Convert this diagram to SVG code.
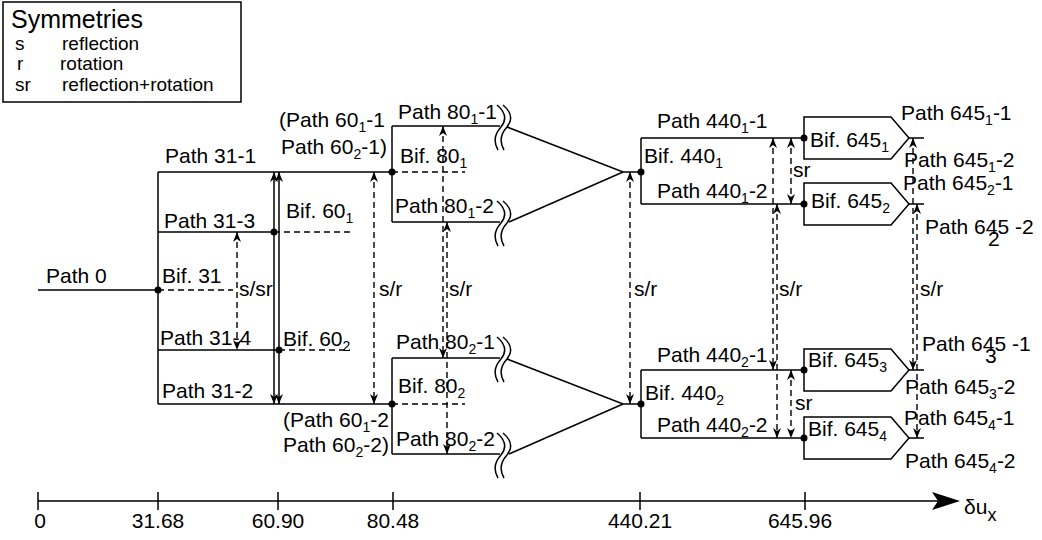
<svg xmlns="http://www.w3.org/2000/svg" width="1042" height="540" viewBox="0 0 1042 540">
<style>
text{font-family:"Liberation Sans",Arial,sans-serif;font-size:21px;fill:#000}
.lg{font-size:19px}
.tt{font-size:25px}
.ax{font-size:21px;text-anchor:middle}
.ln{fill:none;stroke:#000;stroke-width:1.5}
.ds{fill:none;stroke:#000;stroke-width:1.4;stroke-dasharray:6 4}
.ar{marker-start:url(#ah);marker-end:url(#ah)}
.dot{fill:#000}
</style>
<defs>
<marker id="ah" viewBox="0 0 10 8" refX="10" refY="4" markerWidth="10" markerHeight="8" markerUnits="userSpaceOnUse" orient="auto-start-reverse">
<path d="M0,0 L10,4 L0,8 L3,4 z" fill="#000"/>
</marker>
<path id="wv" d="M-3,-21 Q10,-10 1,1 Q-9,12 -2,24 M3,-21 Q16,-10 7,1 Q-3,12 4,24" fill="none" stroke="#000" stroke-width="1.5"/>
</defs>
<rect width="1042" height="540" fill="#fff"/>

<g id="legend">
<rect x="3" y="2" width="238" height="100" fill="none" stroke="#000" stroke-width="1.5"/>
<text class="tt" x="11" y="28">Symmetries</text>
<text class="lg" x="15" y="50">s</text><text class="lg" x="62" y="50">reflection</text>
<text class="lg" x="17" y="70">r</text><text class="lg" x="60" y="70">rotation</text>
<text class="lg" x="15" y="91">sr</text><text class="lg" x="62" y="91">reflection+rotation</text>
</g>

<g id="connectors">
<path class="ln" d="M38,290 H158 M158,172 V404 M158,172 H392 M158,232 H274 M158,350 H279 M158,404 H392"/>
<path class="ln ar" d="M274,172 V404"/>
<path class="ln ar" d="M279,172 V404"/>
<path class="ln" d="M392,126 H500 M392,222 H500 M392,358 H500 M392,454 H500"/>
<use href="#wv" x="500" y="126"/><use href="#wv" x="500" y="222"/>
<use href="#wv" x="500" y="358"/><use href="#wv" x="500" y="454"/>
<path class="ln" d="M507,127 L623,172 H641 M509,222 L623,172 M507,359 L623,404 H641 M509,454 L623,404"/>
<path class="ln" d="M641,138 H804 M641,204 H804 M641,370 H804 M641,438 H804"/>
<path class="ln" d="M909,138 H924 M909,204 H924 M909,370 H924 M909,438 H924"/>
<path class="ds" d="M158,290 H233 M274,232 H350 M279,350 H350 M392,172 H465 M392,404 H465"/>
<path class="ds ar" d="M237,232 V350"/>
<path class="ds ar" d="M374,172 V404"/>
<path class="ds ar" d="M443,126 V358"/>
<path class="ds ar" d="M447,222 V454"/>
<path class="ds ar" d="M630,172 V404"/>
<path class="ds ar" d="M773,138 V370"/>
<path class="ds ar" d="M777,204 V438"/>
<path class="ds ar" d="M791,138 V204"/>
<path class="ds ar" d="M791,370 V438"/>
<path class="ds ar" d="M913,138 V370"/>
<path class="ds ar" d="M917,204 V438"/>
<text x="46" y="283">Path 0</text>
<text x="165" y="163">Path 31-1</text>
<text x="164" y="228">Path 31-3</text>
<text x="160" y="345">Path 31-4</text>
<text x="162" y="398">Path 31-2</text>
<text x="239" y="296">s/sr</text>
<text x="279" y="127">(Path 60<tspan font-size="14" dy="5">1</tspan><tspan dy="-5">-1</tspan></text>
<text x="281" y="154">Path 60<tspan font-size="14" dy="5">2</tspan><tspan dy="-5">-1)</tspan></text>
<text x="283" y="427">(Path 60<tspan font-size="14" dy="5">1</tspan><tspan dy="-5">-2</tspan></text>
<text x="283" y="452">Path 60<tspan font-size="14" dy="5">2</tspan><tspan dy="-5">-2)</tspan></text>
<text x="379" y="296">s/r</text>
<text x="398" y="119">Path 80<tspan font-size="14" dy="5">1</tspan><tspan dy="-5">-1</tspan></text>
<text x="395" y="213">Path 80<tspan font-size="14" dy="5">1</tspan><tspan dy="-5">-2</tspan></text>
<text x="396" y="349">Path 80<tspan font-size="14" dy="5">2</tspan><tspan dy="-5">-1</tspan></text>
<text x="396" y="446">Path 80<tspan font-size="14" dy="5">2</tspan><tspan dy="-5">-2</tspan></text>
<text x="449" y="296">s/r</text>
<text x="634" y="296">s/r</text>
<text x="657" y="128">Path 440<tspan font-size="14" dy="5">1</tspan><tspan dy="-5">-1</tspan></text>
<text x="657" y="198">Path 440<tspan font-size="14" dy="5">1</tspan><tspan dy="-5">-2</tspan></text>
<text x="657" y="362">Path 440<tspan font-size="14" dy="5">2</tspan><tspan dy="-5">-1</tspan></text>
<text x="657" y="432">Path 440<tspan font-size="14" dy="5">2</tspan><tspan dy="-5">-2</tspan></text>
<text x="779" y="296">s/r</text>
<text x="793" y="177">sr</text>
<text x="795" y="410">sr</text>
<text x="901" y="120">Path 645<tspan font-size="14" dy="5">1</tspan><tspan dy="-5">-1</tspan></text>
<text x="904" y="167">Path 645<tspan font-size="14" dy="5">1</tspan><tspan dy="-5">-2</tspan></text>
<text x="903" y="190">Path 645<tspan font-size="14" dy="5">2</tspan><tspan dy="-5">-1</tspan></text>
<text x="925" y="234">Path 645 -2</text><text x="988" y="246" font-size="14">2</text>
<text x="920" y="296">s/r</text>
<text x="922" y="351">Path 645 -1</text><text x="985" y="363" font-size="14">3</text>
<text x="905" y="394">Path 645<tspan font-size="14" dy="5">3</tspan><tspan dy="-5">-2</tspan></text>
<text x="904" y="425">Path 645<tspan font-size="14" dy="5">4</tspan><tspan dy="-5">-1</tspan></text>
<text x="905" y="468">Path 645<tspan font-size="14" dy="5">4</tspan><tspan dy="-5">-2</tspan></text>
</g>

<g id="bif31">
<circle class="dot" cx="158" cy="290" r="3.5"/>
<text x="162" y="283">Bif. 31</text>
</g>
<g id="bif60_1">
<circle class="dot" cx="274" cy="232" r="3.5"/>
<text x="286" y="218">Bif. 60<tspan font-size="14" dy="5">1</tspan></text>
</g>
<g id="bif60_2">
<circle class="dot" cx="279" cy="350" r="3.5"/>
<text x="283" y="346">Bif. 60<tspan font-size="14" dy="5">2</tspan></text>
</g>
<g id="bif80_1">
<path class="ln" d="M392,126 V222"/>
<circle class="dot" cx="392" cy="172" r="3.5"/>
<text x="400" y="163">Bif. 80<tspan font-size="14" dy="5">1</tspan></text>
</g>
<g id="bif80_2">
<path class="ln" d="M392,358 V454"/>
<circle class="dot" cx="392" cy="404" r="3.5"/>
<text x="398" y="393">Bif. 80<tspan font-size="14" dy="5">2</tspan></text>
</g>
<g id="bif440_1">
<path class="ln" d="M641,138 V204"/>
<circle class="dot" cx="641" cy="172" r="3.5"/>
<text x="644" y="163">Bif. 440<tspan font-size="14" dy="5">1</tspan></text>
</g>
<g id="bif440_2">
<path class="ln" d="M641,370 V438"/>
<circle class="dot" cx="641" cy="404" r="3.5"/>
<text x="645" y="400">Bif. 440<tspan font-size="14" dy="5">2</tspan></text>
</g>
<g id="bif645_1">
<path class="ln" d="M804,117 H891 L909,138 L891,159 H804 Z"/>
<circle class="dot" cx="804" cy="138" r="3.5"/>
<text x="810" y="147">Bif. 645<tspan font-size="14" dy="5">1</tspan></text>
</g>
<g id="bif645_2">
<path class="ln" d="M804,183 H891 L909,204 L891,225 H804 Z"/>
<circle class="dot" cx="804" cy="204" r="3.5"/>
<text x="811" y="208">Bif. 645<tspan font-size="14" dy="5">2</tspan></text>
</g>
<g id="bif645_3">
<path class="ln" d="M804,349 H891 L909,370 L891,391 H804 Z"/>
<circle class="dot" cx="804" cy="370" r="3.5"/>
<text x="808" y="367">Bif. 645<tspan font-size="14" dy="5">3</tspan></text>
</g>
<g id="bif645_4">
<path class="ln" d="M804,417 H891 L909,438 L891,459 H804 Z"/>
<circle class="dot" cx="804" cy="438" r="3.5"/>
<text x="808" y="436">Bif. 645<tspan font-size="14" dy="5">4</tspan></text>
</g>

<g id="axis">
<path class="ln" d="M38,501 H942 M38,492 V510 M158,492 V510 M278,492 V510 M393,492 V510 M640,492 V510 M805,492 V510"/>
<path d="M932,492 L960,501 L932,510 L938,501 z" fill="#000"/>
<text class="ax" x="40" y="528">0</text>
<text class="ax" x="158" y="528">31.68</text>
<text class="ax" x="278" y="528">60.90</text>
<text class="ax" x="393" y="528">80.48</text>
<text class="ax" x="640" y="528">440.21</text>
<text class="ax" x="800" y="528">645.96</text>
<text x="964" y="514" font-size="27">δu<tspan font-size="18" dy="7">x</tspan></text>
</g>
</svg>
